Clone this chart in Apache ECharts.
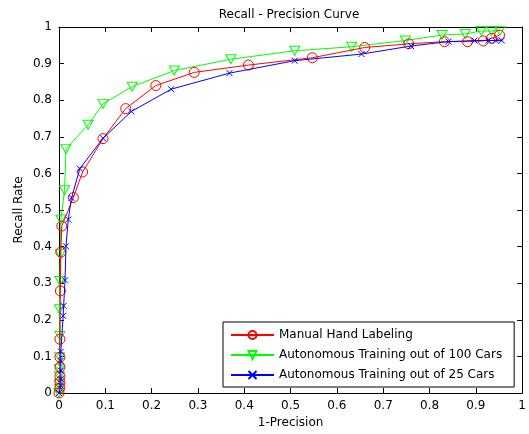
<!DOCTYPE html>
<html>
<head>
<meta charset="utf-8">
<script src="https://cdn.jsdelivr.net/npm/echarts@6/dist/echarts.min.js"></script>
<style>html,body{margin:0;padding:0;background:#fff}#c{width:529px;height:434px}</style>
</head>
<body>
<div id="c"></div>
<script>
var seriesNames = ['Manual Hand Labeling', 'Autonomous Training out of 100 Cars', 'Autonomous Training out of 25 Cars'];
var axisTicks = [0, 0.1, 0.2, 0.3, 0.4, 0.5, 0.6, 0.7, 0.8, 0.9, 1];

var manualX = [0, 0.002, 0.002, 0.002, 0.002, 0.002, 0.002, 0.003, 0.004, 0.006, 0.031, 0.051, 0.095, 0.144, 0.209, 0.292, 0.409, 0.547, 0.660, 0.755, 0.832, 0.882, 0.916, 0.934, 0.951];
var manualY = [0, 0.014, 0.030, 0.046, 0.071, 0.098, 0.147, 0.279, 0.385, 0.456, 0.534, 0.604, 0.695, 0.777, 0.840, 0.876, 0.896, 0.916, 0.944, 0.954, 0.960, 0.960, 0.962, 0.969, 0.978];

var cars100X = [0, 0.001, 0.001, 0.001, 0.001, 0.001, 0.002, 0.001, 0.002, 0.003, 0.004, 0.012, 0.015, 0.063, 0.095, 0.158, 0.249, 0.371, 0.509, 0.632, 0.748, 0.827, 0.877, 0.912, 0.934, 0.952];
var cars100Y = [0, 0.011, 0.025, 0.046, 0.065, 0.098, 0.156, 0.229, 0.306, 0.379, 0.474, 0.554, 0.667, 0.733, 0.790, 0.837, 0.881, 0.912, 0.935, 0.946, 0.963, 0.978, 0.981, 0.989, 0.989, 0.990];

var cars25X = [0, 0.004, 0.004, 0.004, 0.004, 0.004, 0.009, 0.010, 0.013, 0.015, 0.020, 0.027, 0.045, 0.095, 0.156, 0.242, 0.368, 0.509, 0.653, 0.760, 0.841, 0.897, 0.927, 0.943, 0.956];
var cars25Y = [0, 0.020, 0.038, 0.061, 0.088, 0.113, 0.211, 0.238, 0.308, 0.401, 0.474, 0.533, 0.613, 0.696, 0.769, 0.830, 0.874, 0.908, 0.926, 0.948, 0.960, 0.963, 0.963, 0.963, 0.963];

function pairs(xs, ys) { return xs.map(function (x, i) { return [x, ys[i]]; }); }

var FONT = 'DejaVu Sans, sans-serif';
var chart = echarts.init(document.getElementById('c'));

function axisBase(pos, showLabel, name) {
  return {
    type: 'value', position: pos, min: axisTicks[0], max: axisTicks[axisTicks.length - 1], interval: axisTicks[1] - axisTicks[0],
    splitLine: { show: false },
    axisLine: { show: true, onZero: false, lineStyle: { color: '#000', width: 1 } },
    axisTick: { show: true, inside: true, length: 5, lineStyle: { color: '#000', width: 1 } },
    axisLabel: { show: showLabel, color: '#000', fontFamily: FONT, fontSize: 12, margin: 7 },
    name: name || '', nameLocation: 'middle', nameMoveOverlap: false,
    nameTextStyle: { color: '#000', fontFamily: FONT, fontSize: 12 }
  };
}

var xMain = axisBase('bottom', true, '1-Precision'); xMain.nameGap = 24;
var xTop = axisBase('top', false);
var yMain = axisBase('left', true, 'Recall Rate'); yMain.nameGap = 34;
var yRight = axisBase('right', false);

chart.setOption({
  animation: false,
  backgroundColor: '#fff',
  title: {
    text: 'Recall - Precision Curve', left: 284, top: 4, textAlign: 'center',
    textStyle: { color: '#000', fontFamily: FONT, fontSize: 12, fontWeight: 'normal' }
  },
  grid: { left: 59, right: 5, top: 27, bottom: 40, containLabel: false },
  xAxis: [xMain, xTop],
  yAxis: [yMain, yRight],
  legend: {
    orient: 'vertical', left: 223, top: 322,
    backgroundColor: '#fff', borderColor: '#000', borderWidth: 1, borderRadius: 0,
    padding: [7, 12, 6, 7], itemGap: 8, itemWidth: 43, itemHeight: 10,
    textStyle: { color: '#000', fontFamily: FONT, fontSize: 12 },
    data: seriesNames
  },
  series: [
    {
      name: seriesNames[0], type: 'line', data: pairs(manualX, manualY),
      symbol: 'circle', symbolSize: 10,
      lineStyle: { color: '#ff0000', width: 1 },
      itemStyle: { color: 'rgba(0,0,0,0)', borderColor: '#ff0000', borderWidth: 1 },
      z: 3
    },
    {
      name: seriesNames[1], type: 'line', data: pairs(cars100X, cars100Y),
      symbol: 'triangle', symbolRotate: 180, symbolSize: [10, 9],
      lineStyle: { color: '#00ff00', width: 1 },
      itemStyle: { color: 'rgba(0,0,0,0)', borderColor: '#00ff00', borderWidth: 1 },
      z: 2
    },
    {
      name: seriesNames[2], type: 'line', data: pairs(cars25X, cars25Y),
      symbol: 'path://M0,0L10,10M10,0L0,10', symbolSize: 6,
      lineStyle: { color: '#0000ff', width: 1 },
      itemStyle: { color: 'rgba(0,0,0,0)', borderColor: '#0000ff', borderWidth: 1 },
      z: 4
    }
  ]
});
</script>
</body>
</html>
